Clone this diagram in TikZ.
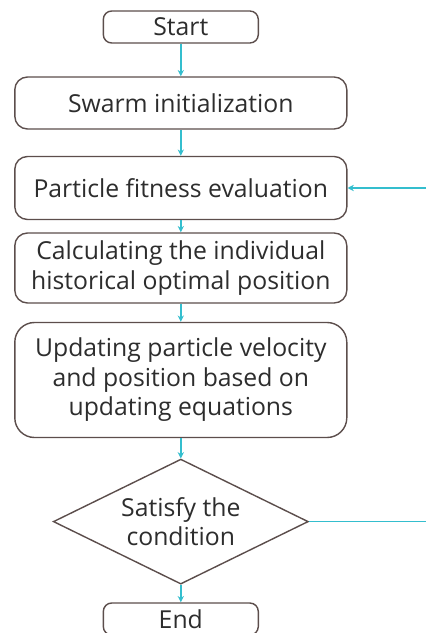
\documentclass[tikz,border=0pt]{standalone}
\usepackage{fontspec}
\setmainfont{Open Sans}
\usetikzlibrary{arrows.meta,shapes.geometric}
\definecolor{boxline}{RGB}{92,78,76}
\definecolor{flowcyan}{RGB}{52,190,206}
\definecolor{boxtext}{RGB}{45,45,45}

\begin{document}
\begin{tikzpicture}[x=1cm,y=1cm,
  font=\fontsize{17.6pt}{21pt}\selectfont,
  stepbox/.style={draw=boxline,line width=1pt,rounded corners=9pt,fill=white,
    text=boxtext,align=center,inner sep=2pt},
  termbox/.style={stepbox,rounded corners=6pt,minimum width=3.875cm,minimum height=0.8cm},
  widebox/.style={stepbox,minimum width=8.3cm},
  testbox/.style={diamond,aspect=2.04,draw=boxline,line width=1pt,fill=white,text=boxtext,
    align=center,inner sep=0pt,minimum width=6.375cm,minimum height=3.125cm},
  flow/.style={draw=flowcyan,line width=1.25pt,-{Stealth[length=4.5pt,width=4.5pt]}}]

\useasboundingbox (0,0) rectangle (10.625,-15.825);

\node[termbox] (start) at (4.52,-0.675) {Start};
\node[widebox,minimum height=1.3cm] (init) at (4.52,-2.575) {Swarm initialization};
\node[widebox,minimum height=1.575cm] (fitness) at (4.52,-4.7) {Particle fitness evaluation};
\node[widebox,minimum height=1.75cm] (pbest) at (4.52,-6.7) {Calculating the individual\\historical optimal position};
\node[widebox,minimum height=2.875cm,rounded corners=14pt] (update) at (4.52,-9.5) {Updating particle velocity\\and position based on\\updating equations};
\node[testbox] (check) at (4.52,-13.04) {Satisfy the\\condition};
\node[termbox] (end) at (4.52,-15.475) {End};

\coordinate (loopbot) at (10.75,-13.04);
\coordinate (looptop) at (10.75,-4.7);

\draw[flow] (start) -- (init);
\draw[flow] (init) -- (fitness);
\draw[flow] (fitness) -- (pbest);
\draw[flow] (pbest) -- (update);
\draw[flow] (update) -- (check);
\draw[flow] (check) -- (end);
\draw[flow] (check.east) -- (loopbot) -- (looptop) -- (fitness.east);
\end{tikzpicture}
\end{document}
